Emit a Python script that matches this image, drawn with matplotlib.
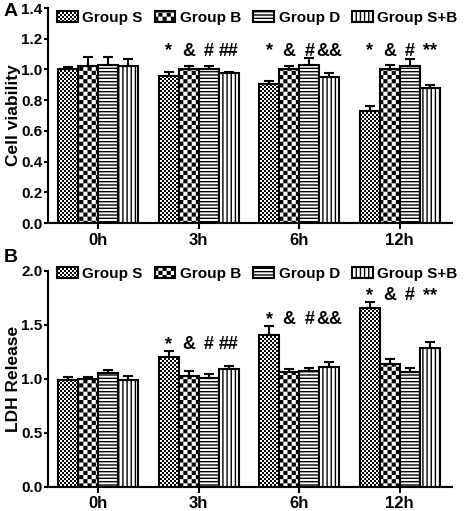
import numpy as np
import matplotlib
matplotlib.use("Agg")
import matplotlib.pyplot as plt
import matplotlib.hatch as mhatch
from matplotlib.path import Path

# data
groups = ["0h", "3h", "6h", "12h"]
series = ["Group S", "Group B", "Group D", "Group S+B"]

viab_S = [1.00, 0.96, 0.905, 0.73]
viab_B = [1.02, 1.00, 1.00, 1.00]
viab_D = [1.03, 1.00, 1.03, 1.02]
viab_SB = [1.02, 0.98, 0.95, 0.88]
viab_S_err = [0.015, 0.025, 0.02, 0.03]
viab_B_err = [0.06, 0.02, 0.025, 0.03]
viab_D_err = [0.05, 0.025, 0.045, 0.05]
viab_SB_err = [0.045, 0.005, 0.025, 0.02]

ldh_S = [0.99, 1.20, 1.41, 1.66]
ldh_B = [1.00, 1.03, 1.06, 1.14]
ldh_D = [1.05, 1.01, 1.07, 1.06]
ldh_SB = [0.99, 1.09, 1.11, 1.29]
ldh_S_err = [0.025, 0.055, 0.08, 0.05]
ldh_B_err = [0.02, 0.04, 0.035, 0.045]
ldh_D_err = [0.035, 0.035, 0.03, 0.04]
ldh_SB_err = [0.04, 0.025, 0.05, 0.055]

marks = [["", "", "", ""],
         ["*", "&", "#", "##"],
         ["*", "&", "#", "&&"],
         ["*", "&", "#", "**"]]


# checkerboard hatches ('k' fine, 'c' coarse)
class _Checker(mhatch.HatchPatternBase):
    char = "c"
    n = 24
    d = 0.007
    filled = True

    def __init__(self, hatch, density):
        self.num_vertices = (self.n * self.n // 2) * 5 if self.char in hatch else 0

    def set_vertices_and_codes(self, vertices, codes):
        s = 1.0 / self.n
        k = 0
        for i in range(self.n):
            for j in range(self.n):
                if (i + j) % 2:
                    continue
                x0, y0 = i * s + self.d, j * s + self.d
                x1, y1 = (i + 1) * s - self.d, (j + 1) * s - self.d
                vertices[k:k + 5] = [(x0, y0), (x1, y0), (x1, y1), (x0, y1), (x0, y0)]
                codes[k:k + 5] = [Path.MOVETO, Path.LINETO, Path.LINETO,
                                  Path.LINETO, Path.CLOSEPOLY]
                k += 5


class CoarseChecker(_Checker):
    char = "c"
    n = 24


class FineChecker(_Checker):
    char = "k"
    n = 50


mhatch._hatch_types.extend([CoarseChecker, FineChecker])
mhatch._validate_hatch_pattern = lambda hatch: None

plt.rcParams["font.family"] = ["Liberation Sans", "DejaVu Sans"]
plt.rcParams["font.weight"] = "bold"
plt.rcParams["axes.labelweight"] = "bold"
plt.rcParams["hatch.linewidth"] = 1.0

hatches = ["k", "c", "-----", "||||"]

fig = plt.figure(figsize=(4.72, 5.11), dpi=100)
axA = fig.add_axes([0.1017, 0.5636, 0.856, 0.4207])
axB = fig.add_axes([0.1017, 0.0476, 0.856, 0.4221])

x = np.arange(len(groups))
w = 0.2


def panel(ax, vals, errs, ylim, yticks, ylabel, ann_level, leg_y):
    for j, (v, e) in enumerate(zip(vals, errs)):
        xs = x + (j - 1.5) * w
        ax.bar(xs, v, w, color="white", edgecolor="black", linewidth=1.5,
               hatch=hatches[j], label=series[j], zorder=2)
        ax.errorbar(xs, v, yerr=[np.zeros(len(v)), e], fmt="none", ecolor="black",
                    elinewidth=1.5, capsize=3.6, capthick=1.5, zorder=3)
    for i in range(len(groups)):
        lvl = ann_level(i)
        for j in range(4):
            if marks[i][j]:
                ax.text(x[i] + (j - 1.5) * w, lvl, marks[i][j], ha="center",
                        va="center", fontsize=13, fontweight="bold")
    ax.set_xlim(-0.5, 3.52)
    ax.set_ylim(*ylim)
    ax.set_yticks(yticks)
    ax.set_yticklabels(["%.1f" % t for t in yticks])
    ax.set_xticks(x)
    ax.set_xticklabels(groups)
    ax.spines[["top", "right"]].set_visible(False)
    ax.spines[["left", "bottom"]].set_linewidth(1.5)
    ax.tick_params(axis="y", width=1.5, length=3, pad=1, labelsize=11)
    ax.tick_params(axis="x", width=1.5, length=4, pad=3, labelsize=12)
    ax.set_ylabel(ylabel, fontsize=12.5)
    ax.yaxis.set_label_coords(-0.066, 0.5)
    ax.legend(ncol=4, frameon=False, loc="center left", bbox_to_anchor=(0.022, leg_y),
              fontsize=11, handlelength=1.35, handleheight=0.75, handletextpad=0.3,
              columnspacing=0.8, borderaxespad=0, borderpad=0)


panel(axA, [viab_S, viab_B, viab_D, viab_SB],
      [viab_S_err, viab_B_err, viab_D_err, viab_SB_err],
      (0, 1.4), np.arange(0, 1.41, 0.2), "Cell viability",
      lambda i: 1.12, 0.953)

panel(axB, [ldh_S, ldh_B, ldh_D, ldh_SB],
      [ldh_S_err, ldh_B_err, ldh_D_err, ldh_SB_err],
      (0, 2.0), np.arange(0, 2.01, 0.5), "LDH Release",
      lambda i: ldh_S[i] + ldh_S_err[i] + 0.06, 0.985)

fig.text(0.008, 0.995, "A", fontsize=14, fontweight="bold", va="top")
fig.text(0.008, 0.513, "B", fontsize=14, fontweight="bold", va="top")

fig.savefig("out.png", dpi=100)
